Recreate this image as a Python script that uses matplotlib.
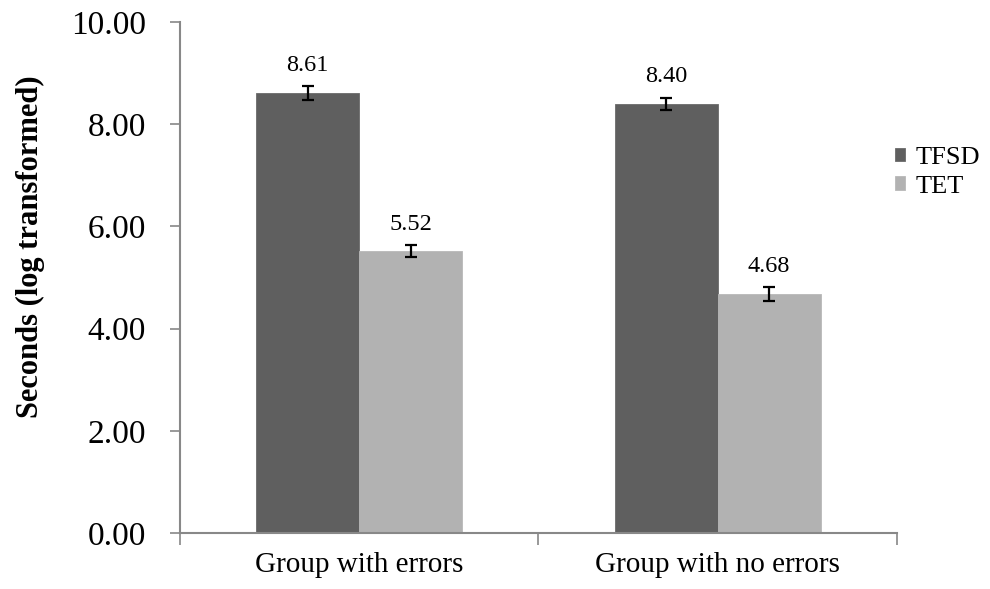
import numpy as np
import matplotlib
matplotlib.use("Agg")
import matplotlib.pyplot as plt

# data
groups = ["Group with errors", "Group with no errors"]
series = ["TFSD", "TET"]
tfsd = [8.61, 8.40]
tet = [5.52, 4.68]
tfsd_err = [0.13, 0.12]
tet_err = [0.12, 0.13]
yticks = [0, 2, 4, 6, 8, 10]

plt.rcParams['font.family'] = ['Liberation Serif', 'DejaVu Serif']

fig = plt.figure(figsize=(9.9, 5.89), dpi=100)
ax = fig.add_axes([0.1818, 0.0951, 0.906 - 0.1818, 0.9626 - 0.0951])

x = np.arange(len(groups))
w = 0.287
axis_grey = "#888888"
err_kw = dict(ecolor="black", elinewidth=1.6, capsize=4.5, capthick=1.6)

b1 = ax.bar(x - w / 2, tfsd, w, color="#5f5f5f", edgecolor="#6a6a6a", linewidth=0.6,
            yerr=tfsd_err, error_kw=err_kw, label=series[0])
b2 = ax.bar(x + w / 2, tet, w, color="#b2b2b2", edgecolor="#b8b8b8", linewidth=0.6,
            yerr=tet_err, error_kw=err_kw, label=series[1])

for bars, vals, errs in [(b1, tfsd, tfsd_err), (b2, tet, tet_err)]:
    for r, v, e in zip(bars, vals, errs):
        ax.text(r.get_x() + r.get_width() / 2, v + e + 0.2, f"{v:.2f}",
                ha="center", va="bottom", fontsize=17.5)

ax.set_xlim(-0.5, len(groups) - 0.5)
ax.set_ylim(0, 10)
ax.set_yticks(yticks)
ax.set_yticklabels([f"{t:.2f}" for t in yticks], fontsize=24)
ax.set_xticks(x)
ax.set_xticklabels(groups, fontsize=21)
ax.tick_params(axis="x", length=0, pad=14)
ax.tick_params(axis="y", direction="out", length=7.5, width=1.2, color=axis_grey, pad=17)
# category boundary ticks below the x axis
ax.set_xticks([-0.5, 0.5, 1.5], minor=True)
ax.tick_params(axis="x", which="minor", direction="out", length=8.5, width=1.2, color=axis_grey)

for s in ["top", "right"]:
    ax.spines[s].set_visible(False)
for s in ["left", "bottom"]:
    ax.spines[s].set_color(axis_grey)
    ax.spines[s].set_linewidth(1.5)

ax.set_ylabel("Seconds (log transformed)", fontsize=22, fontweight="bold")
ax.yaxis.set_label_coords(-0.188, 0.56)

ax.legend(loc="center left", bbox_to_anchor=(0.997, 0.706), frameon=False, fontsize=19,
          borderaxespad=0, borderpad=0,
          handlelength=0.4, handleheight=0.4, handletextpad=0.4, labelspacing=0.25)

fig.savefig("out.png", dpi=100)
